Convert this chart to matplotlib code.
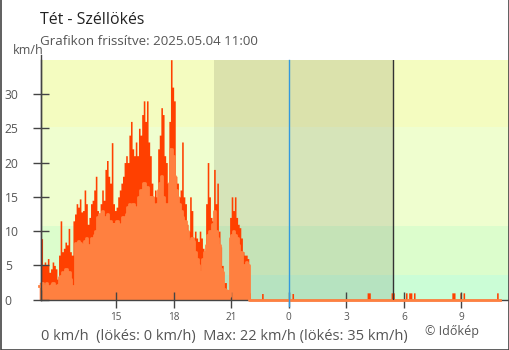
import matplotlib.pyplot as plt
import numpy as np
from matplotlib.lines import Line2D

plt.rcParams['font.family'] = ['Open Sans', 'DejaVu Sans']

# 5-perces adatok 11:00-tól 22:00-ig (km/h)
gust_day = [2.5, 8.9, 5, 5.5, 5, 6, 4, 4.5, 5.5, 5, 4.5, 3,
            6.5, 11.5, 7, 7.5, 8.4, 8, 10.4, 7, 6.5, 11.5, 12.5, 14,
            13.5, 14.7, 12.8, 13, 16, 14, 11, 12, 14, 14.5, 16, 18,
            13, 12, 14, 16, 14.5, 19, 20.3, 18, 17, 22.9, 14, 13,
            13.5, 15, 16, 17, 18, 20, 21, 20, 24, 26, 22, 21,
            23, 21, 25, 24, 27, 29, 26, 29, 23, 21, 17, 15,
            16, 15, 22, 24, 28, 27, 21, 20, 17, 26, 35, 31,
            29, 18, 17, 15, 16, 23, 15, 14, 11, 10, 15, 13,
            9, 10, 9, 8.5, 10, 9, 7.5, 6.5, 14, 20, 15, 12,
            11.5, 19, 14, 17, 10, 7.7, 5, 2.5, 2.5, 1.5, 0.8, 12,
            15, 13, 15, 12, 11, 10.5, 9, 7, 6.5, 6.5, 6, 1]
avg_day = [2.0, 2.5, 1.5, 2.0, 2.5, 2.0, 1.8, 2.2, 2.5, 2.0, 1.5, 2.2,
           3.3, 3.5, 4.0, 3.8, 4.5, 3.5, 4.0, 3.0, 2.0, 2.0, 8.2, 8.0,
           8.5, 8.2, 7.5, 8.0, 8.5, 9.0, 7.0, 8.0, 9.0, 8.5, 9.5, 10.0,
           12, 12.5, 11.5, 13, 12, 11.5, 12.5, 11, 11.5, 11, 10.5, 11,
           11.5, 11, 10.5, 11, 12, 11.5, 12.5, 13.5, 14, 13, 14, 13.5,
           12, 13.5, 15, 16, 15.5, 17, 16, 16.5, 15, 14, 15, 14,
           13, 14, 16, 17, 18, 15, 13, 14, 12, 17, 22, 21,
           18, 16, 15, 14, 13, 12, 11, 11.5, 10, 8.5, 8, 9,
           8.5, 7, 6, 5, 2.6, 4, 6, 7, 8, 9.5, 10, 10,
           11, 13, 10, 9, 8, 4.5, 4, 1.5, 1.4, 1.2, 0.5, 9,
           9.5, 10, 9.5, 9, 8, 7, 7, 5, 5, 5.5, 5, 0]

# éjszakai apró széllökések
blip_times = ['22:35', '0:10', '4:05', '4:10', '5:20', '5:25', '6:05', '6:15',
              '6:20', '6:30', '8:30', '8:35', '8:55', '9:05', '10:50']
blip_gust = [0.9, 0.9, 1.0, 1.0, 1.0, 1.0, 1.0, 1.0,
             1.0, 1.0, 1.0, 1.0, 1.0, 1.0, 1.0]

tick_pos = [-9, -6, -3, 0, 3, 6, 9]
tick_lab = ['15', '18', '21', '0', '3', '6', '9']

sunset, sunrise = -3.9, 5.45

# teljes 24 órás sor, 288 db 5 perces lépés
n = 288
t = -13 + np.arange(n + 1) / 12
gust = np.zeros(n)
avg = np.zeros(n)
gust[:len(gust_day)] = gust_day
avg[:len(avg_day)] = avg_day
for s, g in zip(blip_times, blip_gust):
    hh, mm = map(int, s.split(':'))
    h = hh + mm / 60
    if h > 11:
        h -= 24
    gust[int(round((h + 13) * 12))] = g
gust_e = np.append(gust, gust[-1])
avg_e = np.append(avg, avg[-1])

fig = plt.figure(figsize=(5.1, 3.5), dpi=100)
W, H = 510, 350
ax = fig.add_axes([40.7 / W, 50.3 / H, (509 - 40.7) / W, 240 / H])

bands = [(0, 3.6, '#cbfdd6'), (3.6, 10.8, '#dcfdcc'),
         (10.8, 25.2, '#effecf'), (25.2, 35, '#f4fcc0')]
for lo, hi, c in bands:
    ax.axhspan(lo, hi, color=c, lw=0, zorder=0)
ax.axvspan(sunset, sunrise, color='black', alpha=0.1, lw=0, zorder=0.5)

ax.fill_between(t, gust_e, step='post', color='#ff4000', lw=0, zorder=1, clip_on=False)
ax.fill_between(t, avg_e, step='post', color='#ff8040', lw=0, zorder=1.5, clip_on=False)
ax.step(t, avg_e, where='post', color='#ff8040', lw=2, zorder=3, clip_on=False)

ax.axvline(0, ymin=-6 / 240, ymax=1, color='#3399dd', lw=1, zorder=4, clip_on=False)
ax.axvline(sunrise, color='#333333', lw=1, zorder=4)

ax.set_xlim(-12.93, 11.48)
ax.set_ylim(0, 35)
for s in ['top', 'right']:
    ax.spines[s].set_visible(False)
for s in ['left', 'bottom']:
    ax.spines[s].set_color('#444444')
    ax.spines[s].set_linewidth(1)

ax.set_yticks(range(0, 35, 5))
ax.tick_params(axis='y', direction='inout', length=12, width=1, color='#444444',
               labelsize=8.7, labelcolor='#555555', pad=19.9)
for lab in ax.get_yticklabels():
    lab.set_horizontalalignment('left')
ax.set_xticks(tick_pos)
ax.set_xticklabels(tick_lab)
ax.tick_params(axis='x', direction='inout', length=12, width=1, color='#444444',
               labelsize=7.2, labelcolor='#555555', pad=2.5)

# y tengely túlnyúlása és a keret
fig.add_artist(Line2D([40.7 / W, 40.7 / W], [1 - 55 / H, 1 - 300 / H], color='#444444', lw=1))
fig.add_artist(Line2D([0.5 / W, 0.5 / W, 509.5 / W, 509.5 / W],
                      [1, 0.5 / H, 0.5 / H, 1], color='#444444', lw=1.2))

fig.text(40 / W, 1 - 24 / H, 'Tét - Széllökés', fontsize=11.4, color='#222222', va='baseline')
fig.text(40.5 / W, 1 - 45 / H, 'Grafikon frissítve: 2025.05.04 11:00', fontsize=9.6,
         color='#555555', va='baseline')
fig.text(12.7 / W, 1 - 54 / H, 'km/h', fontsize=9, color='#555555', va='baseline')
fig.text(40.7 / W, 1 - 340 / H, '0 km/h  (lökés: 0 km/h)  Max: 22 km/h (lökés: 35 km/h)',
         fontsize=10.5, color='#555555', va='baseline')
fig.text(425 / W, 1 - 335 / H, '© Időkép', fontsize=9, color='#555555', va='baseline')

fig.savefig('out.png', dpi=100)
